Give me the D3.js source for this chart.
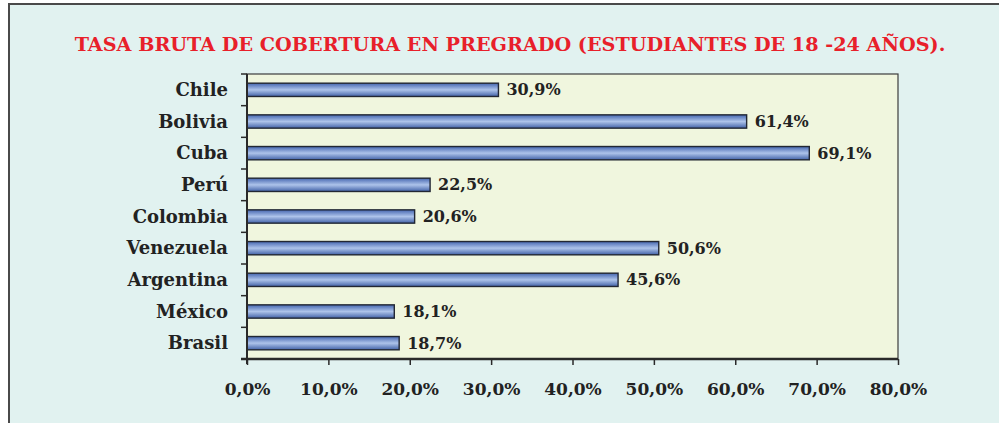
<!DOCTYPE html>
<html>
<head>
<meta charset="utf-8">
<script src="https://cdn.jsdelivr.net/npm/d3@7"></script>
<style>
  html, body { margin: 0; padding: 0; background: #ffffff; }
  svg text { font-family: "DejaVu Serif", "Liberation Serif", serif; font-weight: bold; }
</style>
</head>
<body>
<svg id="chart" width="999" height="423"></svg>
<script>
// Data
const countries = ['Chile', 'Bolivia', 'Cuba', 'Perú', 'Colombia', 'Venezuela', 'Argentina', 'México', 'Brasil'];
const rates = [30.9, 61.4, 69.1, 22.5, 20.6, 50.6, 45.6, 18.1, 18.7];
const xTicks = [0, 10, 20, 30, 40, 50, 60, 70, 80];
const title = 'TASA BRUTA DE COBERTURA EN PREGRADO (ESTUDIANTES DE 18 -24 AÑOS).';

const PLOT = { left: 247, top: 74, right: 898, bottom: 359 };
const fmt = v => v.toFixed(1).replace('.', ',') + '%';

const svg = d3.select('#chart');

// Outer panel
svg.append('rect')
    .attr('x', 9).attr('y', 4)
    .attr('width', 1000).attr('height', 430)
    .attr('fill', '#e1f2f0')
    .attr('stroke', '#4a4a4a')
    .attr('stroke-width', 2);

// Title
svg.append('text')
    .attr('x', 510).attr('y', 51)
    .attr('text-anchor', 'middle')
    .attr('fill', '#e8202a')
    .attr('font-size', 19.2)
    .text(title);

// Gradient for bars
const defs = svg.append('defs');
const grad = defs.append('linearGradient')
    .attr('id', 'barGrad')
    .attr('x1', '0%').attr('y1', '0%')
    .attr('x2', '0%').attr('y2', '100%');
grad.append('stop').attr('offset', '0%').attr('stop-color', '#4566b0');
grad.append('stop').attr('offset', '50%').attr('stop-color', '#adc3ea');
grad.append('stop').attr('offset', '100%').attr('stop-color', '#4262a8');

// Scales
const x = d3.scaleLinear()
    .domain([0, 80])
    .range([PLOT.left, PLOT.right]);

const y = d3.scaleBand()
    .domain(countries)
    .range([PLOT.top, PLOT.bottom])
    .paddingInner(0.58)
    .paddingOuter(0.29);

const yBounds = d3.scaleLinear()
    .domain([0, countries.length])
    .range([PLOT.top, PLOT.bottom]);

// Plot area
svg.append('rect')
    .attr('x', PLOT.left).attr('y', PLOT.top)
    .attr('width', PLOT.right - PLOT.left)
    .attr('height', PLOT.bottom - PLOT.top)
    .attr('fill', '#f0f6de')
    .attr('stroke', '#3c3c3c')
    .attr('stroke-width', 1.2);

// Bars
svg.selectAll('rect.bar')
    .data(countries)
    .enter()
    .append('rect')
    .attr('class', 'bar')
    .attr('x', x(0))
    .attr('y', d => y(d))
    .attr('width', (d, i) => x(rates[i]) - x(0))
    .attr('height', y.bandwidth())
    .attr('fill', 'url(#barGrad)')
    .attr('stroke', '#222733')
    .attr('stroke-width', 1.4);

// Value labels
svg.selectAll('text.value')
    .data(countries)
    .enter()
    .append('text')
    .attr('class', 'value')
    .attr('x', (d, i) => x(rates[i]) + 8)
    .attr('y', d => y(d) + y.bandwidth() / 2)
    .attr('dy', '0.35em')
    .attr('fill', '#222')
    .attr('font-size', 16)
    .text((d, i) => fmt(rates[i]));

// Y axis: ticks at category boundaries
const yAxis = svg.append('g');
yAxis.append('line')
    .attr('x1', PLOT.left).attr('x2', PLOT.left)
    .attr('y1', PLOT.top).attr('y2', PLOT.bottom + 5)
    .attr('stroke', '#2a2a2a').attr('stroke-width', 2);
yAxis.selectAll('line.tick')
    .data(d3.range(countries.length + 1))
    .enter()
    .append('line')
    .attr('class', 'tick')
    .attr('x1', PLOT.left - 6).attr('x2', PLOT.left)
    .attr('y1', d => yBounds(d)).attr('y2', d => yBounds(d))
    .attr('stroke', '#2a2a2a').attr('stroke-width', 1.5);
yAxis.selectAll('text')
    .data(countries)
    .enter()
    .append('text')
    .attr('x', 228)
    .attr('y', d => y(d) + y.bandwidth() / 2)
    .attr('dy', '0.35em')
    .attr('text-anchor', 'end')
    .attr('fill', '#222')
    .attr('font-size', 18)
    .text(d => d);

// X axis
const xAxis = svg.append('g')
    .attr('transform', `translate(0,${PLOT.bottom})`)
    .call(d3.axisBottom(x).tickValues(xTicks).tickSize(6).tickPadding(18).tickFormat(fmt));
xAxis.select('.domain')
    .attr('d', `M${PLOT.left - 6},0H${PLOT.right}`)
    .attr('stroke', '#2a2a2a').attr('stroke-width', 2.5);
xAxis.selectAll('.tick line').attr('stroke', '#2a2a2a').attr('stroke-width', 1.5);
xAxis.selectAll('.tick text')
    .attr('fill', '#222')
    .attr('font-size', 17)
    .attr('font-family', '"DejaVu Serif", serif');
</script>
</body>
</html>
